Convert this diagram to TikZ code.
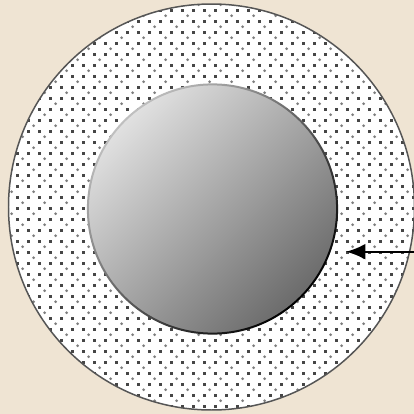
\documentclass[tikz,border=0pt]{standalone}
\usetikzlibrary{arrows.meta}
\definecolor{parchment}{RGB}{239,228,211}
\definecolor{dotdark}{RGB}{70,70,70}
\definecolor{dotlight}{RGB}{125,125,125}
\definecolor{rimgray}{RGB}{85,85,85}
\tikzset{
  darkdot/.style={fill=dotdark},
  lightdot/.style={fill=dotlight},
  pointer/.style={line width=1.3pt,-{Latex[length=11pt,width=9pt]}}
}
\begin{document}
\begin{tikzpicture}[x=0.02cm,y=0.02cm]
  \fill[parchment] (0,0) rectangle (414,414);
  \useasboundingbox (0,0) rectangle (414,414);
  \coordinate (O) at (211.5,207);
  \coordinate (C) at (212.5,205);
  % dotted outer disc
  \fill[white] (O) circle (203);
  \begin{scope}
    \clip (O) circle (203);
    \foreach \r in {0,...,38}
      \foreach \c in {0,...,38}
        \fill[darkdot] ({5+11*\c},{402.4-11*\r}) rectangle ++(2.6,2.6);
    \foreach \r in {0,...,19}
      \foreach \c in {0,...,19} {
        \fill[lightdot] ({0.7+22*\c},{409.3-22*\r}) circle (1.5);
        \fill[lightdot] ({11.7+22*\c},{398.3-22*\r}) circle (1.5);
      }
  \end{scope}
  \draw[rimgray,line width=0.85pt] (O) circle (203);
  % grey core
  \shade[shading=axis,top color=black!12,bottom color=black!58,shading angle=45] (C) circle (124.5);
  \shade[even odd rule,top color=black!25,bottom color=black,shading angle=45] (C) circle (125.6) (C) circle (123.6);
  % pointer
  \coordinate (tail) at (414,162.3);
  \coordinate (tip) at (346,162.3);
  \draw[pointer] (tail) -- (tip);
\end{tikzpicture}
\end{document}
